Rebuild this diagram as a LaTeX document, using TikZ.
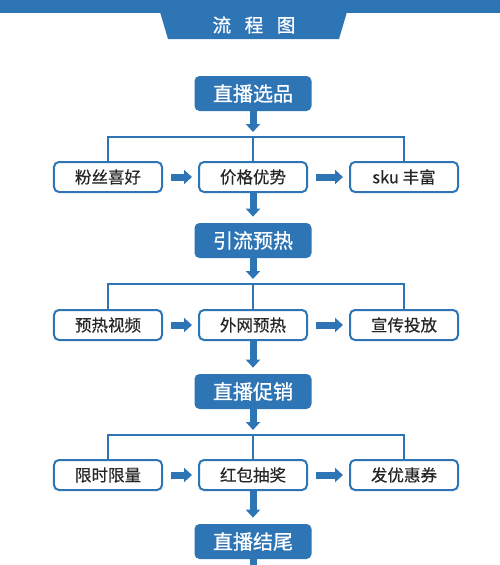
\documentclass[tikz,border=0pt]{standalone}
\usepackage{fontspec}
\newfontfamily\cjk{Noto Sans CJK SC}[FakeBold=0.8]
\newfontfamily\cjksub{Noto Sans CJK SC}[FakeBold=0.4]
\usetikzlibrary{arrows.meta}
\definecolor{flowblue}{RGB}{46,117,182}

\begin{document}
\begin{tikzpicture}[
    x=0.2mm, y=-0.2mm,
    main/.style={rectangle, rounded corners=1mm, fill=flowblue, text=white, inner sep=0pt,
                 minimum width=23.4mm, minimum height=7mm, font=\cjk\fontsize{11.4}{12}\selectfont},
    sub/.style={rectangle, rounded corners=1mm, draw=flowblue, line width=0.4mm, fill=white,
                text=black!85, inner sep=0pt, minimum width=21.6mm, minimum height=6mm,
                font=\cjksub\fontsize{9.4}{11}\selectfont},
    thin/.style={draw=flowblue, line width=0.4mm},
    block/.style={draw=flowblue, line width=1.4mm, -{Triangle[width=2.8mm,length=1.6mm]}},
]
  \useasboundingbox (0,0) rectangle (500,565);
  % title band
  \fill [flowblue] (0,0) rectangle (500,13);
  \fill [flowblue] (160,12) -- (347,12) -- (339,39) -- (168,39) -- cycle;
  \node [text=white, font=\cjk\fontsize{10.6}{12}\selectfont] (title) at (254,25)
        {流\hspace{2.7mm}程\hspace{2.7mm}图};

  % main steps
  \node [main] (m1) at (253, 93.5) {直播选品};
  \node [main] (m2) at (253,240.5) {引流预热};
  \node [main] (m3) at (253,391.5) {直播促销};
  \node [main] (m4) at (253,541.5) {直播结尾};

  % branch points
  \coordinate (j1) at (253,137);
  \coordinate (j2) at (253,284);
  \coordinate (j3) at (253,435);
  \coordinate (end) at (253,566);

  % sub steps
  \node [sub] (s11) at (108,177) {粉丝喜好};
  \node [sub] (s12) at (253,177) {价格优势};
  \node [sub] (s13) at (404,177) {sku 丰富};
  \node [sub] (s21) at (108,325) {预热视频};
  \node [sub] (s22) at (253,325) {外网预热};
  \node [sub] (s23) at (404,325) {宣传投放};
  \node [sub] (s31) at (108,475) {限时限量};
  \node [sub] (s32) at (253,475) {红包抽奖};
  \node [sub] (s33) at (404,475) {发优惠券};

  % connectors
  \draw [block, shorten >=1mm]   (m1) -- (j1);
  \draw [block, shorten >=1mm]   (m2) -- (j2);
  \draw [block, shorten >=1mm]   (m3) -- (j3);
  \draw [thin] (s11) |- (j1) -| (s13);  \draw [thin] (j1) -- (s12);
  \draw [thin] (s21) |- (j2) -| (s23);  \draw [thin] (j2) -- (s22);
  \draw [thin] (s31) |- (j3) -| (s33);  \draw [thin] (j3) -- (s32);
  \draw [block, shorten <=1.6mm, shorten >=1.2mm] (s11) -- (s12);
  \draw [block, shorten <=1.6mm, shorten >=1.2mm] (s12) -- (s13);
  \draw [block, shorten <=1.6mm, shorten >=1.2mm] (s21) -- (s22);
  \draw [block, shorten <=1.6mm, shorten >=1.2mm] (s22) -- (s23);
  \draw [block, shorten <=1.6mm, shorten >=1.2mm] (s31) -- (s32);
  \draw [block, shorten <=1.6mm, shorten >=1.2mm] (s32) -- (s33);
  \draw [block, shorten >=1.2mm] (s12) -- (m2);
  \draw [block, shorten >=1.2mm] (s22) -- (m3);
  \draw [block, shorten >=1.2mm] (s32) -- (m4);
  \draw [flowblue, line width=1.4mm] (m4) -- (end);
\end{tikzpicture}
\end{document}
